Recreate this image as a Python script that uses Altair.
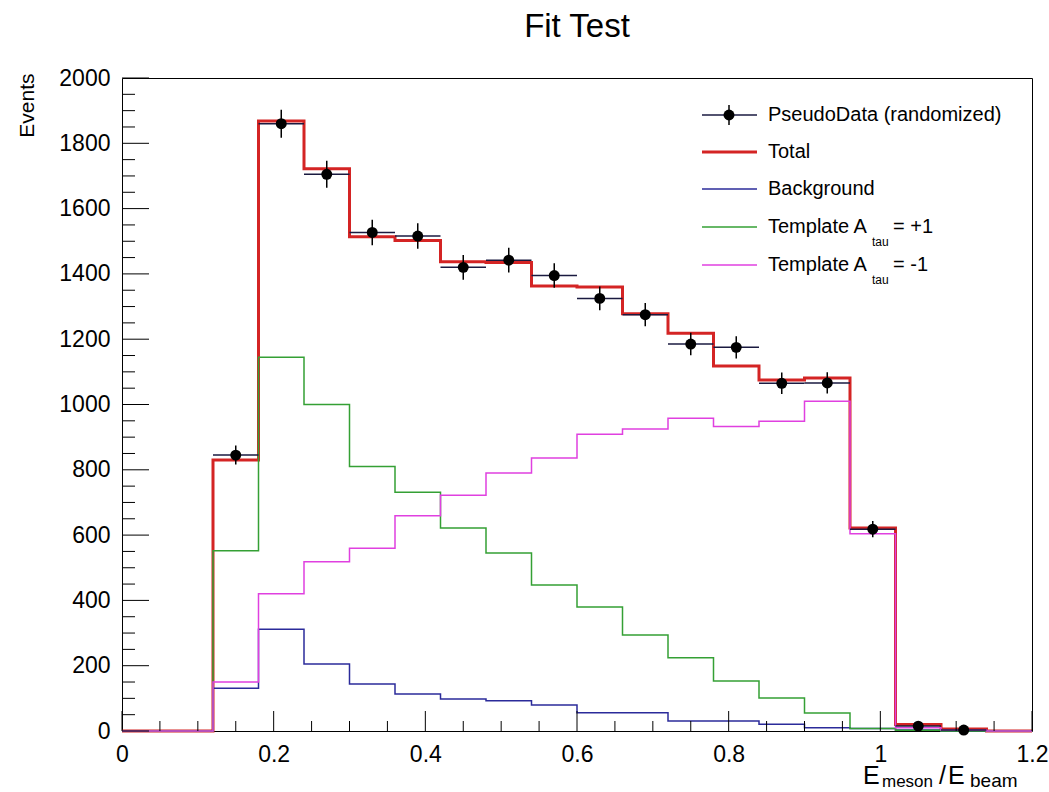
import altair as alt
import pandas as pd
import numpy as np

FONT = "Liberation Sans"

# ---- data -------------------------------------------------------------
bin_edges = [0.0, 0.06, 0.12, 0.18, 0.24, 0.30, 0.36, 0.42, 0.48, 0.54, 0.60,
             0.66, 0.72, 0.78, 0.84, 0.90, 0.96, 1.02, 1.08, 1.14, 1.20]

total = [0, 0, 830, 1868, 1722, 1514, 1502, 1437, 1435, 1363, 1360, 1278,
         1218, 1118, 1075, 1081, 622, 20, 6, 0]
background = [0, 0, 131, 312, 205, 144, 113, 98, 93, 80, 56, 56, 31, 31,
              21, 10, 8, 3, 0, 0]
template_p = [0, 0, 552, 1145, 1000, 810, 731, 622, 545, 447, 380, 294,
              224, 153, 101, 55, 8, 2, 0, 0]
template_m = [0, 0, 150, 420, 518, 560, 659, 722, 790, 836, 909, 925,
              958, 933, 949, 1010, 604, 10, 3, 0]

data_x = [0.15, 0.21, 0.27, 0.33, 0.39, 0.45, 0.51, 0.57, 0.63, 0.69, 0.75,
          0.81, 0.87, 0.93, 0.99, 1.05, 1.11]
data_y = [845, 1860, 1705, 1527, 1516, 1420, 1442, 1395, 1325, 1275, 1185,
          1175, 1065, 1066, 618, 15, 3]
half_bin = 0.03

x_major = [0, 0.2, 0.4, 0.6, 0.8, 1, 1.2]
x_minor = [0.05, 0.1, 0.15, 0.25, 0.3, 0.35, 0.45, 0.5, 0.55, 0.65, 0.7, 0.75,
           0.85, 0.9, 0.95, 1.05, 1.1, 1.15]
y_major = [0, 200, 400, 600, 800, 1000, 1200, 1400, 1600, 1800, 2000]
y_minor = [v for v in range(50, 2000, 50) if v % 200 != 0]

series_names = ["Total", "Background", "Template A_tau = +1", "Template A_tau = -1"]
series_vals = [total, background, template_p, template_m]
series_colors = ["#d42424", "#2b2b9a", "#34a034", "#e040e0"]
series_widths = [3, 1.5, 1.5, 1.5]

# ---- scales / axes ----------------------------------------------------
W, H = 910, 653
xs = alt.Scale(domain=[0, 1.2], nice=False, zero=False)
ys = alt.Scale(domain=[0, 2000], nice=False, zero=False)
xaxis = alt.Axis(values=x_major, format="~g", labelFont=FONT, labelFontSize=23,
                 labelColor="black", ticks=False, tickSize=0, domain=False,
                 grid=False, labelPadding=12, labelFlush=False, title=None)
yaxis = alt.Axis(values=y_major, format="d", labelFont=FONT, labelFontSize=23,
                 labelColor="black", ticks=False, tickSize=0, domain=False,
                 grid=False, labelPadding=12, labelFlush=False,
                 title="Events", titleFont=FONT, titleFontSize=21,
                 titleFontWeight="normal", titleColor="black", titleAngle=270,
                 titleAlign="right", titleBaseline="alphabetic",
                 titleX=-89, titleY=-5)


def X(field):
    return alt.X(field, type="quantitative", scale=xs, axis=xaxis)


def Y(field):
    return alt.Y(field, type="quantitative", scale=ys, axis=yaxis)


layers = []

# histograms (step lines)
for name, vals, col, sw in zip(series_names, series_vals, series_colors, series_widths):
    df = pd.DataFrame({"x": bin_edges, "y": list(vals) + [vals[-1]]})
    layers.append(
        alt.Chart(df).mark_line(interpolate="step-after", color=col, strokeWidth=sw)
        .encode(x=X("x"), y=Y("y"))
    )

# pseudo data with errors
ddf = pd.DataFrame({"x": data_x, "y": data_y})
ddf["err"] = np.sqrt(ddf["y"])
ddf["ylo"] = ddf["y"] - ddf["err"]
ddf["yhi"] = ddf["y"] + ddf["err"]
ddf["xlo"] = ddf["x"] - half_bin
ddf["xhi"] = ddf["x"] + half_bin

layers.append(alt.Chart(ddf).mark_rule(color="black", strokeWidth=1.5)
              .encode(x=X("x"), y=Y("ylo"), y2="yhi"))
layers.append(alt.Chart(ddf).mark_rule(color="#1a1a40", strokeWidth=1.5)
              .encode(x=X("xlo"), x2="xhi", y=Y("y")))
layers.append(alt.Chart(ddf).mark_circle(color="black", size=120, opacity=1)
              .encode(x=X("x"), y=Y("y")))

# inward ticks
layers.append(alt.Chart(pd.DataFrame({"v": x_major})).mark_rule(color="black", strokeWidth=1)
              .encode(x=X("v"), y=alt.value(H), y2=alt.value(H - 20)))
layers.append(alt.Chart(pd.DataFrame({"v": x_minor})).mark_rule(color="black", strokeWidth=1)
              .encode(x=X("v"), y=alt.value(H), y2=alt.value(H - 10)))
layers.append(alt.Chart(pd.DataFrame({"v": y_major})).mark_rule(color="black", strokeWidth=1)
              .encode(y=Y("v"), x=alt.value(0), x2=alt.value(27)))
layers.append(alt.Chart(pd.DataFrame({"v": y_minor})).mark_rule(color="black", strokeWidth=1)
              .encode(y=Y("v"), x=alt.value(0), x2=alt.value(13)))

# ---- legend (manual, ROOT style) --------------------------------------
leg_rows = [37, 74, 111, 149, 187]
leg_labels = ["PseudoData (randomized)", "Total", "Background", "Template A", "Template A"]
leg_colors = ["#1a1a40", "#d42424", "#2b2b9a", "#34a034", "#e040e0"]
leg_widths = [1.5, 3, 1.5, 1.5, 1.5]
one = pd.DataFrame({"k": [0]})
for ry, lab, col, lw in zip(leg_rows, leg_labels, leg_colors, leg_widths):
    layers.append(alt.Chart(one).mark_rule(color=col, strokeWidth=lw)
                  .encode(x=alt.value(580), x2=alt.value(635), y=alt.value(ry)))
    layers.append(alt.Chart(pd.DataFrame({"t": [lab]}))
                  .mark_text(font=FONT, fontSize=20, align="left", baseline="middle", color="black")
                  .encode(x=alt.value(646), y=alt.value(ry), text="t:N"))
# data marker in legend
layers.append(alt.Chart(one).mark_rule(color="black", strokeWidth=1.5)
              .encode(x=alt.value(607), y=alt.value(leg_rows[0] - 10), y2=alt.value(leg_rows[0] + 10)))
layers.append(alt.Chart(one).mark_circle(color="black", size=120, opacity=1)
              .encode(x=alt.value(607), y=alt.value(leg_rows[0])))
# subscripts for template entries
for ry, tail in zip(leg_rows[3:], ["= +1", "= -1"]):
    layers.append(alt.Chart(pd.DataFrame({"t": ["tau"]}))
                  .mark_text(font=FONT, fontSize=12, align="left", baseline="middle", color="black")
                  .encode(x=alt.value(750), y=alt.value(ry + 15), text="t:N"))
    layers.append(alt.Chart(pd.DataFrame({"t": [tail]}))
                  .mark_text(font=FONT, fontSize=20, align="left", baseline="middle", color="black")
                  .encode(x=alt.value(771), y=alt.value(ry), text="t:N"))

# ---- x axis title with subscripts ------------------------------------
xt_parts = [("E", 741, 706, 25), ("meson", 760, 709, 17), ("/", 817, 706, 25),
            ("E", 826, 706, 25), ("beam", 848, 709, 19)]
for txt, px, py, fs in xt_parts:
    layers.append(alt.Chart(pd.DataFrame({"t": [txt]}))
                  .mark_text(font=FONT, fontSize=fs, align="left", baseline="alphabetic", color="black")
                  .encode(x=alt.value(px), y=alt.value(py), text="t:N"))

# ---- chart title --------------------------------------------------------
layers.append(alt.Chart(pd.DataFrame({"t": ["Fit Test"]}))
              .mark_text(font=FONT, fontSize=33, align="center", baseline="alphabetic", color="black")
              .encode(x=alt.value(W / 2), y=alt.value(-41), text="t:N"))

chart = (
    alt.layer(*layers)
    .properties(
        width=W, height=H,
        autosize=alt.AutoSizeParams(type="none"),
        padding={"left": 122, "top": 78, "right": 17, "bottom": 61},
        background="white",
    )
    .configure_view(stroke="black", strokeWidth=1)
)

chart.save("out.html", embed_options={"renderer": "svg", "actions": False})
